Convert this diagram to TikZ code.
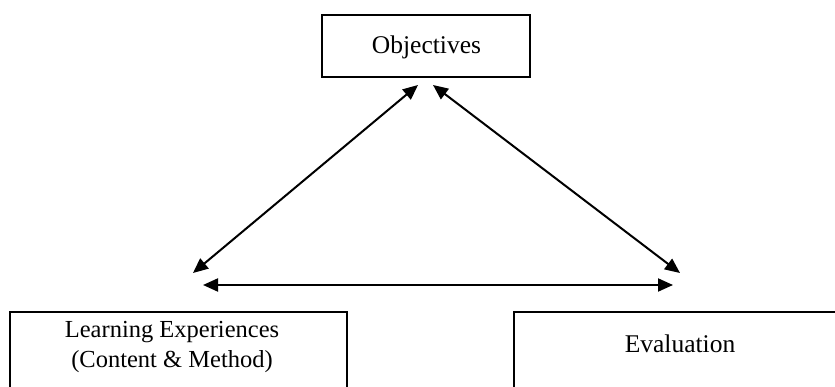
\documentclass[tikz,border=0pt]{standalone}
\usepackage{fontspec}
\setmainfont{Liberation Serif}
\usetikzlibrary{arrows.meta}
\begin{document}
\begin{tikzpicture}[x=1pt,y=1pt,
  box/.style={draw=black,line width=1.8pt,inner sep=0pt},
  lbl/.style={inner sep=0pt,align=center,font=\fontsize{25.5}{30}\selectfont},
  conn/.style={line width=2pt,{Triangle[length=15pt,width=13pt]}-{Triangle[length=15pt,width=13pt]}}]
\clip (0,0) rectangle (835,-387);
% boxes
\node[box,minimum width=208,minimum height=62] (obj) at (426,-46) {};
\node[lbl] (objt) at (426.5,-47) {Objectives};
\node[box,minimum width=337,minimum height=110] (learn) at (178.5,-367) {};
\node[lbl,font=\fontsize{24.5}{30}\selectfont] (learnt) at (172,-347) {Learning Experiences\\(Content \& Method)};
\node[box,minimum width=340,minimum height=110] (eval) at (684,-367) {};
\node[lbl] (evalt) at (680,-344) {Evaluation};
% arrow ends
\coordinate (a1) at (418,-85);
\coordinate (a2) at (193,-273);
\coordinate (b1) at (433,-85);
\coordinate (b2) at (680,-273);
\coordinate (c1) at (203,-285);
\coordinate (c2) at (673,-285);
\draw[conn] (a1) -- (a2);
\draw[conn] (b1) -- (b2);
\draw[conn] (c1) -- (c2);
\end{tikzpicture}
\end{document}
